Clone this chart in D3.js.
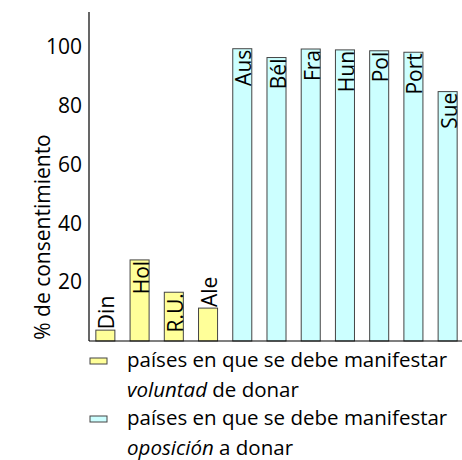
<!DOCTYPE html>
<html>
<head>
<meta charset="utf-8">
<script src="https://cdn.jsdelivr.net/npm/d3@7"></script>
<style>
  body { margin: 0; background: #fff; }
  svg { display: block; font-family: "Open Sans", sans-serif; }
</style>
</head>
<body>
<svg id="chart" width="462" height="460"></svg>
<script>
// Data
const countries = ["Din", "Hol", "R.U.", "Ale", "Aus", "Bél", "Fra", "Hun", "Pol", "Port", "Sue"];
const consent = [3.7, 27.6, 16.6, 11.2, 99.5, 96.5, 99.4, 99.1, 98.8, 98.3, 84.9];
const groups = ["voluntad", "voluntad", "voluntad", "voluntad", "oposicion", "oposicion", "oposicion", "oposicion", "oposicion", "oposicion", "oposicion"];
const yTicks = [20, 40, 60, 80, 100];
const yTitle = "% de consentimiento";

const fillColor = { voluntad: "#ffff99", oposicion: "#ccffff" };

const svg = d3.select("#chart");

const x0 = 89, yBase = 341, yTop = 12;

const x = d3.scaleBand()
  .domain(countries)
  .range([x0, 464])
  .paddingInner(0.444)
  .paddingOuter(0.2);

const y = d3.scaleLinear()
  .domain([0, 112])
  .range([yBase, yTop]);

// Bars
const bars = svg.append("g").selectAll("g.bar")
  .data(countries.map((c, i) => ({ name: c, value: consent[i], group: groups[i] })))
  .join("g")
  .attr("class", "bar");

bars.append("rect")
  .attr("x", d => x(d.name))
  .attr("y", d => y(d.value))
  .attr("width", x.bandwidth())
  .attr("height", d => yBase - y(d.value))
  .attr("fill", d => fillColor[d.group])
  .attr("stroke", "#444")
  .attr("stroke-width", 1);

// Labels inside (or above) bars, rotated
bars.append("text")
  .text(d => d.name)
  .attr("font-size", 21)
  .attr("fill", "#000")
  .attr("dominant-baseline", "central")
  .each(function (d) {
    const t = d3.select(this);
    const len = this.getComputedTextLength();
    const h = yBase - y(d.value);
    const inside = h > len + 4;
    const cx = x(d.name) + x.bandwidth() / 2 + 1;
    const ty = y(d.value) + (inside ? 1 : -1);
    t.attr("text-anchor", inside ? "end" : "start")
      .attr("transform", `translate(${cx},${ty}) rotate(-90)`);
  });

// Axes (no tick marks)
svg.append("line")
  .attr("x1", x0).attr("x2", x0)
  .attr("y1", yTop).attr("y2", yBase)
  .attr("stroke", "#000").attr("stroke-width", 1.2);

svg.append("line")
  .attr("x1", x0).attr("x2", 462)
  .attr("y1", yBase).attr("y2", yBase)
  .attr("stroke", "#000").attr("stroke-width", 1.2);

const yAxis = svg.append("g")
  .attr("transform", `translate(${x0},0)`)
  .call(d3.axisLeft(y).tickValues(yTicks).tickSize(0).tickPadding(7));
yAxis.select(".domain").remove();
yAxis.selectAll("text")
  .attr("font-size", 21)
  .attr("font-family", "Open Sans, sans-serif")
  .attr("fill", "#000");

svg.append("text")
  .attr("transform", `translate(42,${(yBase + 133) / 2}) rotate(-90)`)
  .attr("text-anchor", "middle")
  .attr("dominant-baseline", "central")
  .attr("font-size", 21)
  .text(yTitle);

// Legend
const legend = [
  { group: "voluntad", line1: "países en que se debe manifestar", em: "voluntad", rest: " de donar", y: 367 },
  { group: "oposicion", line1: "países en que se debe manifestar", em: "oposición", rest: " a donar", y: 425 }
];

const lg = svg.append("g").selectAll("g")
  .data(legend)
  .join("g");

lg.append("rect")
  .attr("x", 90)
  .attr("y", d => d.y - 9)
  .attr("width", 17)
  .attr("height", 6)
  .attr("fill", d => fillColor[d.group])
  .attr("stroke", "#444");

lg.append("text")
  .attr("x", 127)
  .attr("y", d => d.y)
  .attr("font-size", 20.5)
  .text(d => d.line1);

const l2 = lg.append("text")
  .attr("x", 127)
  .attr("y", d => d.y + 30)
  .attr("font-size", 20.5);
l2.append("tspan").attr("font-style", "italic").text(d => d.em);
l2.append("tspan").text(d => d.rest);
</script>
</body>
</html>
